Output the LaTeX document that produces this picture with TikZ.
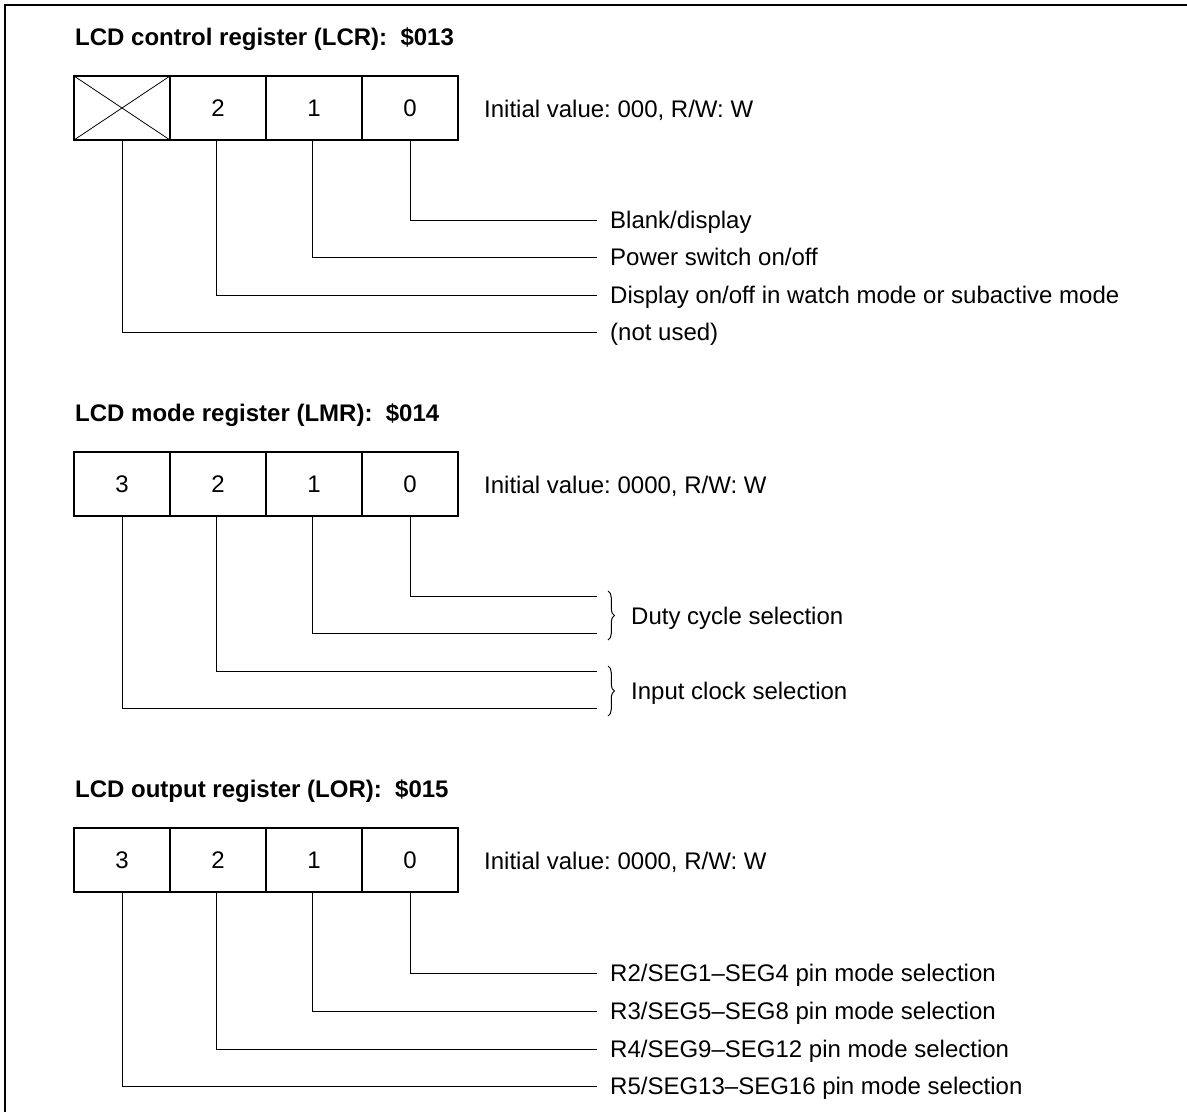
\documentclass[tikz,border=0pt]{standalone}
\usepackage{fontspec}
\setmainfont{Liberation Sans}
\frenchspacing
\usetikzlibrary{decorations.pathreplacing}
\begin{document}
\begin{tikzpicture}[x=1pt,y=-1pt,
  every node/.style={font=\fontsize{24}{28}\selectfont},
  cell/.style={draw,line width=1.2pt,minimum width=96pt,minimum height=64pt,inner sep=0pt,outer sep=0pt},
  lbl/.style={anchor=west,inner xsep=13pt,inner ysep=0pt,text height=17.2pt,text depth=0pt},
  init/.style={anchor=base west,inner sep=0pt},
  ttl/.style={anchor=base west,inner sep=0pt,font=\fontsize{24}{28}\selectfont\bfseries},
  lead/.style={line width=1pt},
  bracestyle/.style={line width=1pt,decorate,decoration={brace,amplitude=6.5pt}}]
\useasboundingbox (0,0) rectangle (1187,1112);
\draw[line width=1.5pt] (5,1112) -- (5,5) -- (1187,5);

% ---- Section 1: LCR
\node[ttl] (t1) at (75,45) {LCD control register (LCR):\ \ \$013};
\node[cell] (a3) at (122,108) {};
\node[cell] (a2) at (218,108) {2};
\node[cell] (a1) at (314,108) {1};
\node[cell] (a0) at (410,108) {0};
\draw[line width=0.8pt] (a3.north west) -- (a3.south east) (a3.south west) -- (a3.north east);
\node[init] (i1) at (484,117) {Initial value: 000, R/W: W};
\node[lbl] (la0) at (597,220) {Blank/display};
\node[lbl] (la1) at (597,257) {Power switch on/off};
\node[lbl] (la2) at (597,295) {Display on/off in watch mode or subactive mode};
\node[lbl] (la3) at (597,332) {(not used)};
\draw[lead] (a0.south) |- (la0.west);
\draw[lead] ([xshift=-2pt]a1.south) |- (la1.west);
\draw[lead] ([xshift=-2pt]a2.south) |- (la2.west);
\draw[lead] (a3.south) |- (la3.west);

% ---- Section 2: LMR
\node[ttl] (t2) at (75,421) {LCD mode register (LMR):\ \ \$014};
\node[cell] (b3) at (122,484) {3};
\node[cell] (b2) at (218,484) {2};
\node[cell] (b1) at (314,484) {1};
\node[cell] (b0) at (410,484) {0};
\node[init] (i2) at (484,493) {Initial value: 0000, R/W: W};
\coordinate (e0) at (597,596);
\coordinate (e1) at (597,633);
\coordinate (e2) at (597,671);
\coordinate (e3) at (597,708);
\draw[lead] (b0.south) |- (e0);
\draw[lead] ([xshift=-2pt]b1.south) |- (e1);
\draw[lead] ([xshift=-2pt]b2.south) |- (e2);
\draw[lead] (b3.south) |- (e3);
\coordinate (br1a) at (608,591);
\coordinate (br1b) at (608,640);
\coordinate (br2a) at (608,666);
\coordinate (br2b) at (608,716);
\draw[bracestyle] (br1a) -- (br1b);
\draw[bracestyle] (br2a) -- (br2b);
\node[lbl,inner xsep=17pt] (lb01) at (614,615.5) {Duty cycle selection};
\node[lbl,inner xsep=17pt] (lb23) at (614,691) {Input clock selection};

% ---- Section 3: LOR
\node[ttl] (t3) at (75,797) {LCD output register (LOR):\ \ \$015};
\node[cell] (c3) at (122,860) {3};
\node[cell] (c2) at (218,860) {2};
\node[cell] (c1) at (314,860) {1};
\node[cell] (c0) at (410,860) {0};
\node[init] (i3) at (484,869) {Initial value: 0000, R/W: W};
\node[lbl] (lc0) at (597,973) {R2/SEG1--SEG4 pin mode selection};
\node[lbl] (lc1) at (597,1011) {R3/SEG5--SEG8 pin mode selection};
\node[lbl] (lc2) at (597,1049) {R4/SEG9--SEG12 pin mode selection};
\node[lbl] (lc3) at (597,1086) {R5/SEG13--SEG16 pin mode selection};
\draw[lead] (c0.south) |- (lc0.west);
\draw[lead] ([xshift=-2pt]c1.south) |- (lc1.west);
\draw[lead] ([xshift=-2pt]c2.south) |- (lc2.west);
\draw[lead] (c3.south) |- (lc3.west);
\end{tikzpicture}
\end{document}
